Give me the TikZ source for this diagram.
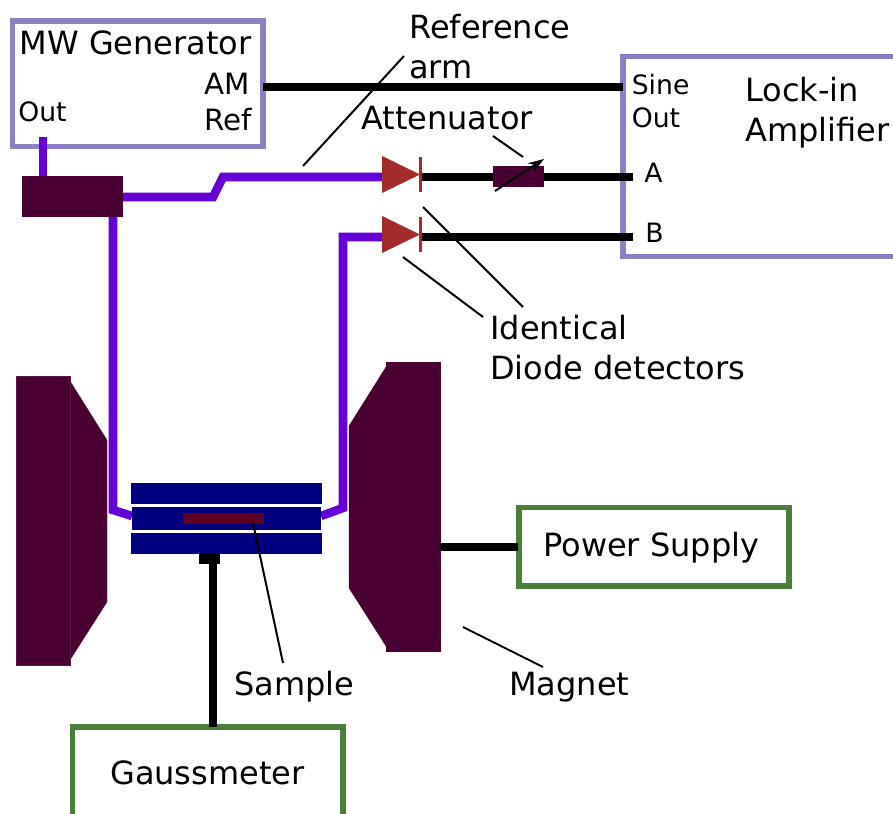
\documentclass[tikz,border=0pt]{standalone}
\usepackage{fontspec}
\setmainfont{DejaVu Sans}
\usetikzlibrary{arrows.meta}
\definecolor{boxpurple}{HTML}{8C80C4}
\definecolor{boxgreen}{HTML}{4A7F3A}
\definecolor{wave}{HTML}{6600D8}
\definecolor{magnetc}{HTML}{4B0033}
\definecolor{seamc}{HTML}{5A1A45}
\definecolor{navyc}{HTML}{000080}
\definecolor{samplec}{HTML}{600020}
\definecolor{diodec}{HTML}{A52A2A}
\tikzset{
  px/.style={x=0.75pt,y=-0.75pt},
  instr/.style={draw=#1,line width=4pt,fill=white,inner sep=0pt},
  solid block/.style={fill=#1,draw=none,inner sep=0pt},
  wire/.style={draw=black,line width=6.4pt},
  guide/.style={draw=wave,line width=6.4pt,line join=miter},
  leader/.style={draw=black,line width=1.5pt},
  lbl/.style={inner sep=0pt,font=\fontsize{24}{24}\selectfont,anchor=base west,text=black},
  sml/.style={inner sep=0pt,font=\fontsize{22}{22}\selectfont,anchor=base west,text=black},
  tiny/.style={inner sep=0pt,font=\fontsize{20}{20}\selectfont,anchor=base west,text=black},
  magshape/.style={fill=magnetc,draw=#1,line width=0.25pt},
}
\newcommand{\blk}[6]{% name,colour,x1,y1,x2,y2
  \node[solid block=#2,minimum width={(#5-#3)*0.75pt},minimum height={(#6-#4)*0.75pt}] (#1) at ({(#3+#5)/2},{(#4+#6)/2}) {};}
\newcommand{\ibox}[6]{%
  \node[instr=#2,minimum width={(#5-#3)*0.75pt},minimum height={(#6-#4)*0.75pt}] (#1) at ({(#3+#5)/2},{(#4+#6)/2}) {};}
\begin{document}
\begin{tikzpicture}[px]
\useasboundingbox (0,0) rectangle (893,814);
\clip (0,0) rectangle (893,814);
\fill[white] (0,0) rectangle (893,814);
% magnets
\path[magshape=seamc] (70,381) -- (107,440) -- (107,602) -- (70,660) -- cycle;
\path[magshape=magnetc] (386,367) -- (349,426) -- (349,588) -- (386,646) -- cycle;
\path[magshape=seamc] (16,376) rectangle (70,665);
\path[magshape=magnetc] (386,362) rectangle (440,651);
\coordinate (magRport) at (440,547);
% instruments
\ibox{mw}{boxpurple}{12.7}{21}{263}{146.7}
\ibox{lock}{boxpurple}{623}{56.7}{930}{256.7}
\ibox{ps}{boxgreen}{519}{507.5}{789}{586}
\ibox{gauss}{boxgreen}{72.5}{727}{343}{870}
% anchors
\coordinate (mwOut) at (43,137);
\coordinate (lockS) at (623,87);
\coordinate (lockA) at (633,177);
\coordinate (lockB) at (633,237);
\coordinate (cavL) at (132,516);
\coordinate (cavR) at (321,516);
\coordinate (diodeAin) at (383,177);
\coordinate (diodeBin) at (383,237);
\coordinate (diodeAout) at (420,177);
\coordinate (diodeBout) at (420,237);
% waveguides
\blk{split}{magnetc}{22}{176}{123}{217}
\draw[guide] (mwOut) -- (43,176);
\draw[guide] (123,197) -- (213,197) -- (223,177) -- (diodeAin);
\draw[guide] (113,217) -- (113,510) -- (cavL);
\draw[guide] (cavR) -- (343,508) -- (343,237) -- (diodeBin);
% wires
\draw[wire] (263,87) -- (lockS);
\draw[wire] (diodeAout) -- (lockA);
\draw[wire] (diodeBout) -- (lockB);
\draw[wire] (magRport) -- (518,547);
% cavity
\blk{cavT}{navyc}{131}{483}{322}{504}
\blk{cavM}{navyc}{132}{507}{321}{530}
\blk{cavB}{navyc}{131}{533}{322}{554}
\blk{samp}{samplec}{183}{513}{264}{524}
\blk{probe}{black}{199}{554}{220}{564}
\draw[wire] (213,564) -- (213,727);
% diodes
\fill[diodec] (382,156) -- (420,174.5) -- (382,193) -- cycle;
\fill[diodec] (382,216) -- (420,234.5) -- (382,253) -- cycle;
\draw[diodec,line width=1.6pt] (420.5,157) -- (420.5,192);
\draw[diodec,line width=1.6pt] (420.5,217) -- (420.5,252);
% attenuator
\blk{att}{magnetc}{493}{166}{544}{187}
\draw[draw=black,line width=1.5pt,-{Stealth[length=12pt,width=8pt]}] (495,191) -- (544,159);
% leaders
\draw[leader] (404,56) -- (303,166);
\draw[leader] (493,136) -- (523,157);
\draw[leader] (423,207) -- (523,307);
\draw[leader] (403,257) -- (483,317);
\draw[leader] (253,523) -- (283,663);
\draw[leader] (463,627) -- (543,667);
% text
\node[lbl] (t1) at (19.5,54) {MW Generator};
\node[sml] (t2) at (204,94) {AM};
\node[sml] (t3) at (204.5,130) {Ref};
\node[tiny] (t4) at (18,121) {Out};
\node[lbl] (t5) at (409,38) {Reference};
\node[lbl] (t6) at (409,78) {arm};
\node[lbl] (t7) at (361,129) {Attenuator};
\node[tiny] (t8) at (631.5,94) {Sine};
\node[tiny] (t9) at (631.5,127) {Out};
\node[lbl] (t10) at (745,101) {Lock-in};
\node[lbl] (t11) at (745,141) {Amplifier};
\node[tiny] (t12) at (644,182) {A};
\node[tiny] (t13) at (645,242) {B};
\node[lbl] (t14) at (490,339) {Identical};
\node[lbl] (t15) at (490,379) {Diode detectors};
\node[lbl] (t16) at (543,556) {Power Supply};
\node[lbl] (t17) at (234,695) {Sample};
\node[lbl] (t18) at (509,695) {Magnet};
\node[lbl] (t19) at (110,784) {Gaussmeter};
\end{tikzpicture}
\end{document}
